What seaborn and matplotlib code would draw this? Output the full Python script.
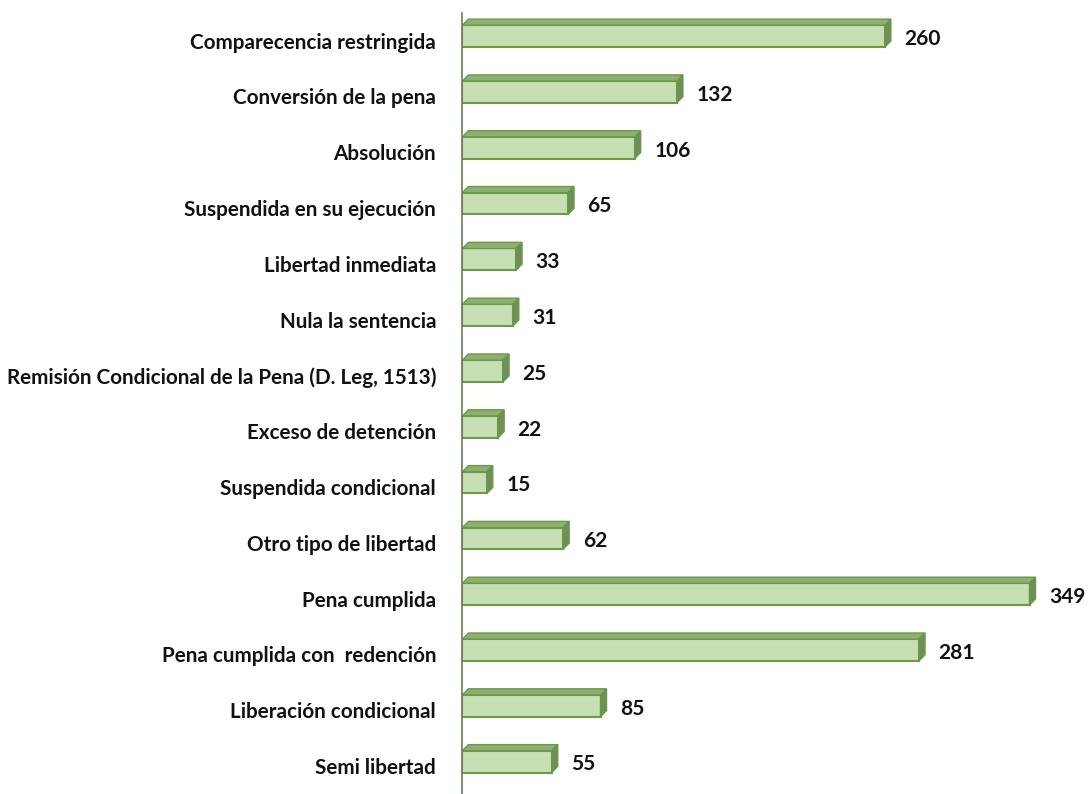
import matplotlib
matplotlib.use("Agg")
import matplotlib.pyplot as plt
from matplotlib.patches import Polygon
import seaborn as sns
import pandas as pd

categories = [
    "Comparecencia restringida",
    "Conversión de la pena",
    "Absolución",
    "Suspendida en su ejecución",
    "Libertad inmediata",
    "Nula la sentencia",
    "Remisión Condicional de la Pena (D. Leg, 1513)",
    "Exceso de detención",
    "Suspendida condicional",
    "Otro tipo de libertad",
    "Pena cumplida",
    "Pena cumplida con  redención",
    "Liberación condicional",
    "Semi libertad",
]
values = [260, 132, 106, 65, 33, 31, 25, 22, 15, 62, 349, 281, 85, 55]

df = pd.DataFrame({"tipo": categories, "n": values})

sns.set_style("white")
plt.rcParams["font.family"] = ["Lato", "DejaVu Sans"]

fig = plt.figure(figsize=(10.88, 7.94), dpi=100)
ax = fig.add_axes([0.425, 0.0, 0.575, 0.984])

front = "#c6e0b4"
edge = "#6a9a45"
top_col = "#8fae74"
side_col = "#6e8f57"

sns.barplot(data=df, y="tipo", x="n", orient="h", width=0.39,
            color=front, saturation=1, edgecolor=edge, linewidth=1.5, ax=ax)

# 3D look: top face and right face on each bar
dx, dy = 3.7, 0.11
for p in ax.patches:
    p.set_y(p.get_y() - 0.08)
    x0, y, w, h = p.get_x(), p.get_y(), p.get_width(), p.get_height()
    topf = Polygon([(x0, y), (x0 + w, y), (x0 + w + dx, y - dy), (x0 + dx, y - dy)],
                   closed=True, facecolor=top_col, edgecolor=edge, linewidth=1.0)
    sidef = Polygon([(x0 + w, y), (x0 + w + dx, y - dy), (x0 + w + dx, y + h - dy), (x0 + w, y + h)],
                    closed=True, facecolor=side_col, edgecolor=edge, linewidth=1.0)
    ax.add_patch(topf)
    ax.add_patch(sidef)

for i, v in enumerate(values):
    ax.text(v + 12, i - 0.03, str(v), va="center", ha="left",
            fontsize=15, fontweight="bold", color="#111111")

ax.set_xlim(0, 385)
ax.set_ylim(len(categories) - 0.5, -0.5)
ax.set_xlabel("")
ax.set_ylabel("")
ax.set_xticks([])
ax.tick_params(axis="y", which="major", length=0, pad=19, labelsize=14.9)
for lab in ax.get_yticklabels():
    lab.set_fontweight("bold")
    lab.set_color("#111111")
ax.set_yticks([i + 0.5 for i in range(-1, len(categories))], minor=True)
ax.tick_params(axis="y", which="minor", direction="in", length=5, width=1, color="#6b7b5a")

for s in ["top", "right", "bottom"]:
    ax.spines[s].set_visible(False)
ax.spines["left"].set_color("#6b7b5a")
ax.spines["left"].set_linewidth(1.2)

fig.savefig("out.png", dpi=100)
